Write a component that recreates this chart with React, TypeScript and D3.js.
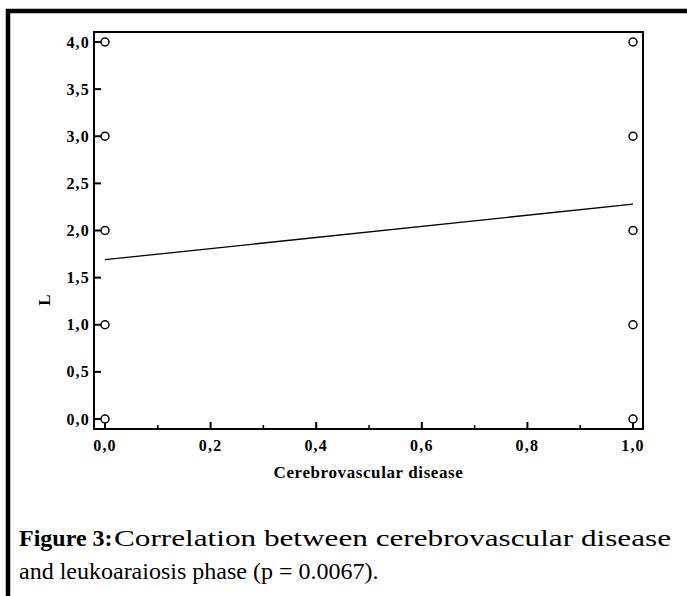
import React from "react";
import * as d3 from "d3";

const xValues = [0, 0, 0, 0, 0, 1, 1, 1, 1, 1];
const yValues = [0, 1, 2, 3, 4, 0, 1, 2, 3, 4];
const regressionX = [0, 1];
const regressionY = [1.69, 2.28];
const yTicks = [0, 0.5, 1, 1.5, 2, 2.5, 3, 3.5, 4];
const xMajorTicks = [0, 0.2, 0.4, 0.6, 0.8, 1.0];
const xMinorTicks = [0.1, 0.3, 0.5, 0.7, 0.9];
const xTitle = "Cerebrovascular disease";
const yTitle = "L";
const captionBold = "Figure 3:";
const captionLine1 = "Correlation between cerebrovascular disease";
const captionLine2 = "and leukoaraiosis phase (p = 0.0067).";

const W = 687;
const H = 596;
const frame = { left: 94, right: 643, top: 32, bottom: 429 };
const serif = "'Liberation Serif', 'Times New Roman', serif";

export default function App() {
  const x = d3.scaleLinear().domain([0, 1]).range([105, 633]);
  const y = d3.scaleLinear().domain([0, 4]).range([419, 42]);
  const fmt = (v: number) => v.toFixed(1).replace(".", ",");
  const line = d3
    .line<number>()
    .x((_, i) => x(regressionX[i]))
    .y((d) => y(d));
  const tickFont = {
    fontFamily: serif,
    fontWeight: 700,
    fontSize: 16,
    letterSpacing: 1.2,
  };
  return (
    <svg
      width={W}
      height={H}
      style={{ position: "absolute", left: 0, top: 0, background: "#fff" }}
    >
      <rect x={0} y={0} width={W} height={H} fill="#fff" />
      {/* outer figure border */}
      <rect x={8} y={11} width={W + 20} height={H + 20} fill="none" stroke="#000" strokeWidth={4.5} />
      {/* plot frame */}
      <rect
        x={frame.left}
        y={frame.top}
        width={frame.right - frame.left}
        height={frame.bottom - frame.top}
        fill="none"
        stroke="#000"
        strokeWidth={2}
      />
      {/* y ticks */}
      {yTicks.map((t) => (
        <g key={"y" + t}>
          <line x1={frame.left} x2={frame.left + 7} y1={y(t)} y2={y(t)} stroke="#000" strokeWidth={2} />
          <text x={frame.left - 4} y={y(t)} dy="0.35em" textAnchor="end" style={tickFont}>
            {fmt(t)}
          </text>
        </g>
      ))}
      {/* x ticks */}
      {xMajorTicks.map((t) => (
        <g key={"x" + t}>
          <line x1={x(t)} x2={x(t)} y1={frame.bottom} y2={frame.bottom - 7} stroke="#000" strokeWidth={2} />
          <text x={x(t)} y={451} textAnchor="middle" style={tickFont}>
            {fmt(t)}
          </text>
        </g>
      ))}
      {xMinorTicks.map((t) => (
        <line key={"xm" + t} x1={x(t)} x2={x(t)} y1={frame.bottom} y2={frame.bottom - 4} stroke="#000" strokeWidth={1.5} />
      ))}
      {/* regression line */}
      <path d={line(regressionY) || ""} fill="none" stroke="#000" strokeWidth={1.3} />
      {/* points */}
      {xValues.map((xv, i) => (
        <circle key={"p" + i} cx={x(xv)} cy={y(yValues[i])} r={4} fill="#fff" stroke="#000" strokeWidth={1.5} />
      ))}
      {/* axis titles */}
      <text
        x={(frame.left + frame.right) / 2}
        y={478}
        textAnchor="middle"
        style={{ ...tickFont, fontSize: 17, letterSpacing: 0.6 }}
      >
        {xTitle}
      </text>
      <text
        transform={`translate(50,300) rotate(-90)`}
        textAnchor="middle"
        style={{ ...tickFont, fontSize: 17, letterSpacing: 0 }}
      >
        {yTitle}
      </text>
      {/* caption */}
      <text x={19} y={546} style={{ fontFamily: serif, fontSize: 24, fontWeight: 700 }}>
        {captionBold}
      </text>
      <text
        x={114}
        y={546}
        textLength={557}
        lengthAdjust="spacingAndGlyphs"
        style={{ fontFamily: serif, fontSize: 24 }}
      >
        {captionLine1}
      </text>
      <text x={19} y={579} style={{ fontFamily: serif, fontSize: 24 }}>
        {captionLine2}
      </text>
    </svg>
  );
}
